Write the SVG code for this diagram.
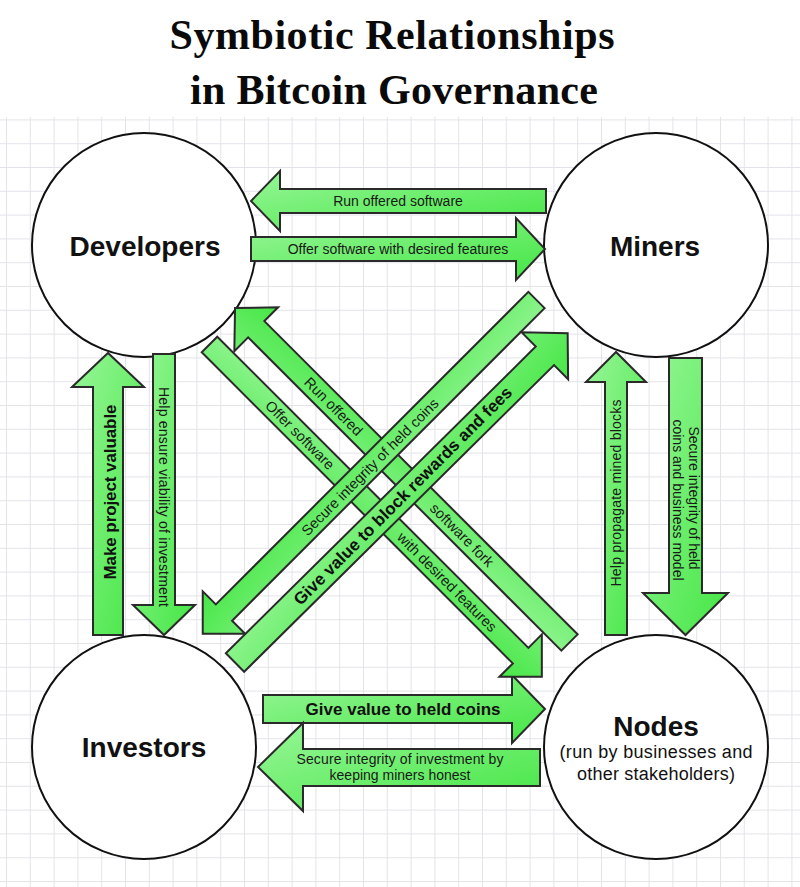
<svg xmlns="http://www.w3.org/2000/svg" width="800" height="887" viewBox="0 0 800 887">
  <defs>
    <pattern id="grid" x="6" y="119.4" width="23.8" height="23.8" patternUnits="userSpaceOnUse">
      <path d="M0.5 0V23.8M0 0.5H23.8" stroke="#e3e3eb" stroke-width="1" fill="none"/>
    </pattern>
    <linearGradient id="g" x1="0" y1="0" x2="1" y2="1">
      <stop offset="0" stop-color="#97f697"/>
      <stop offset="1" stop-color="#44e644"/>
    </linearGradient>
    <style>
      .arr { fill: url(#g); stroke: #2a2a2a; stroke-width: 2; stroke-linejoin: miter; }
      .node { fill: #ffffff; stroke: #111111; stroke-width: 2; }
      .lbl { font-family: "Liberation Sans", Arial, sans-serif; font-size: 14px; fill: #1a1a1a; text-anchor: middle; dominant-baseline: central; }
      .bold { font-weight: bold; font-size: 17px; fill: #111111; }
      .diag { font-size: 14.5px; }
      .title { font-family: "Liberation Serif", "Times New Roman", serif; font-weight: bold; font-size: 42px; fill: #0a0a0a; text-anchor: middle; }
      .name { font-family: "Liberation Sans", Arial, sans-serif; font-weight: bold; font-size: 28px; fill: #111111; text-anchor: middle; }
      .sub { font-family: "Liberation Sans", Arial, sans-serif; font-size: 18px; fill: #111111; text-anchor: middle; }
    </style>
  </defs>

  <rect x="0" y="0" width="800" height="887" fill="#ffffff"/>
  <rect x="0" y="117" width="800" height="770" fill="url(#grid)"/>

  <g id="title">
    <text class="title" x="392" y="49" textLength="445">Symbiotic Relationships</text>
    <text class="title" x="394" y="104" textLength="408">in Bitcoin Governance</text>
  </g>

  <g id="developers">
    <circle class="node" cx="144" cy="245" r="112"/>
    <text class="name" x="145" y="256">Developers</text>
  </g>
  <g id="miners">
    <circle class="node" cx="656" cy="245" r="112"/>
    <text class="name" x="655" y="256">Miners</text>
  </g>
  <g id="investors">
    <circle class="node" cx="144" cy="747" r="112"/>
    <text class="name" x="144" y="757">Investors</text>
  </g>
  <g id="nodes">
    <circle class="node" cx="656" cy="747" r="112"/>
    <text class="name" x="656" y="736">Nodes</text>
    <text class="sub" x="656" y="758" textLength="193">(run by businesses and</text>
    <text class="sub" x="656" y="780" textLength="158">other stakeholders)</text>
  </g>

  <g id="connectors">
    <!-- Miners -> Developers -->
    <path class="arr" d="M546,189 L280,189 L280,171 L251,201 L280,231 L280,213 L546,213 Z"/>
    <text class="lbl" x="398" y="201">Run offered software</text>
    <!-- Developers -> Miners -->
    <path class="arr" d="M251,237 L516,237 L516,218 L545,249 L516,280 L516,261 L251,261 Z"/>
    <text class="lbl" x="398" y="249">Offer software with desired features</text>

    <!-- Investors -> Developers -->
    <path class="arr" d="M93,635 L93,387 L72,387 L108,353 L144,387 L123,387 L123,635 Z"/>
    <text class="lbl bold" transform="translate(110,492) rotate(-90)" textLength="175">Make project valuable</text>
    <!-- Developers -> Investors -->
    <path class="arr" d="M153,354 L153,605 L133,605 L164,635 L195,605 L175,605 L175,354 Z"/>
    <text class="lbl" transform="translate(164,497) rotate(90)" textLength="220">Help ensure viability of investment</text>

    <!-- Nodes -> Miners -->
    <path class="arr" d="M605,635 L605,382 L586,382 L616,352 L646,382 L627,382 L627,635 Z"/>
    <text class="lbl" transform="translate(616,493) rotate(-90)" textLength="187">Help propagate mined blocks</text>
    <!-- Miners -> Nodes -->
    <path class="arr" d="M669,358 L669,593 L643,593 L685.5,635 L728,593 L702,593 L702,358 Z"/>
    <text class="lbl" transform="translate(685.5,500) rotate(90)">
      <tspan x="0" y="-8">Secure integrity of held</tspan>
      <tspan x="0" y="8">coins and business model</tspan>
    </text>

    <!-- Investors -> Nodes -->
    <path class="arr" d="M263,695 L512,695 L512,675 L545,709 L512,743 L512,723 L263,723 Z"/>
    <text class="lbl bold" x="403" y="709" textLength="195">Give value to held coins</text>
    <!-- Nodes -> Investors -->
    <path class="arr" d="M540,749 L303,749 L303,723 L258,767 L303,811 L303,786 L540,786 Z"/>
    <text class="lbl" x="400" y="759" textLength="207">Secure integrity of investment by</text>
    <text class="lbl" x="400" y="775">keeping miners honest</text>

    <!-- Nodes -> Developers (diagonal) -->
    <path class="arr" transform="translate(569.5,642.5) rotate(-135)" d="M0,-11.5 L443,-11.5 L443,-31 L473,0 L443,31 L443,11.5 L0,11.5 Z"/>
    <text class="lbl diag" transform="translate(333.5,406.5) rotate(45)">Run offered</text>
    <text class="lbl diag" transform="translate(462,535) rotate(45)">software fork</text>
    <!-- Developers -> Nodes (diagonal) -->
    <path class="arr" transform="translate(209.5,344.5) rotate(45)" d="M0,-11 L440,-11 L440,-30 L470,0 L440,30 L440,11 L0,11 Z"/>
    <text class="lbl diag" transform="translate(300,435) rotate(45)">Offer software</text>
    <text class="lbl diag" transform="translate(447,582) rotate(45)">with desired features</text>

    <!-- Miners -> Investors (diagonal) -->
    <path class="arr" transform="translate(536.5,300) rotate(135)" d="M0,-11.5 L442,-11.5 L442,-30 L472,0 L442,30 L442,11.5 L0,11.5 Z"/>
    <text class="lbl diag" transform="translate(370,467) rotate(-45)" textLength="187">Secure integrity of held coins</text>
    <!-- Investors -> Miners (diagonal) -->
    <path class="arr" transform="translate(235,662.5) rotate(-44.7)" d="M0,-13 L436,-13 L436,-33 L468,0 L436,33 L436,13 L0,13 Z"/>
    <text class="lbl bold" transform="translate(403,496) rotate(-45)" textLength="301">Give value to block rewards and fees</text>
  </g>
</svg>
